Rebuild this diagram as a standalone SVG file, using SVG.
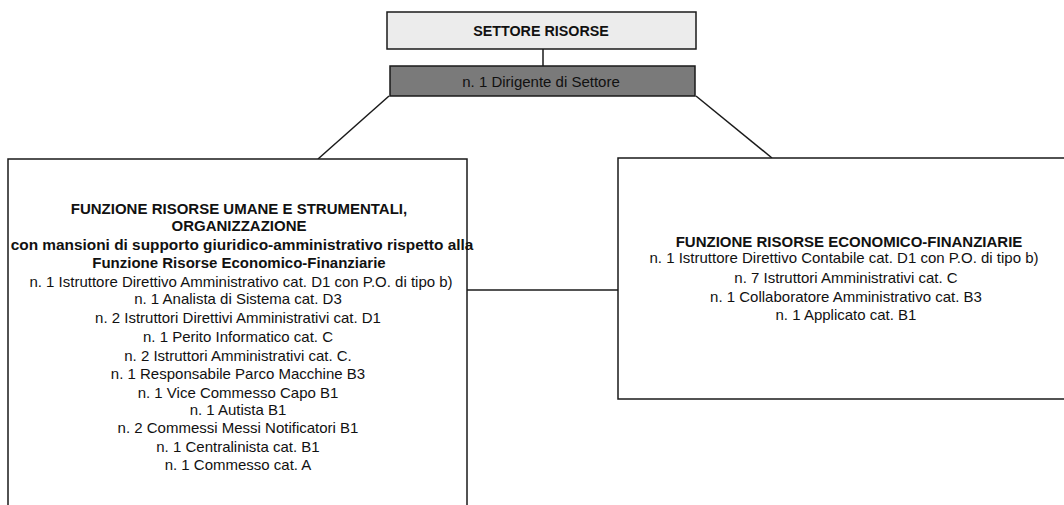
<svg xmlns="http://www.w3.org/2000/svg" width="1064" height="505" viewBox="0 0 1064 505">
<style>
.box{fill:#ffffff;stroke:#1a1a1a;stroke-width:1.5}
.t{font-family:"Liberation Sans",Arial,sans-serif;font-size:15px;fill:#111;text-anchor:middle}
.b{font-weight:bold}
.c{stroke:#1a1a1a;stroke-width:1.5;fill:none}
</style>
<rect width="1064" height="505" fill="#ffffff"/>
<g id="connectors">
<line class="c" x1="543" y1="49" x2="543" y2="66"/>
<line class="c" x1="389" y1="96" x2="318" y2="159"/>
<line class="c" x1="696" y1="96" x2="772" y2="158"/>
<line class="c" x1="467" y1="290" x2="618" y2="290"/>
</g>
<g id="settore">
<rect x="387" y="12" width="309" height="37" fill="#ececec" stroke="#1a1a1a" stroke-width="1.5"/>
<text class="t b" x="541" y="36" style="font-size:14.3px">SETTORE RISORSE</text>
</g>
<g id="dirigente">
<rect x="390" y="66" width="305" height="30" fill="#7a7a7a" stroke="#1a1a1a" stroke-width="1.5"/>
<text class="t" x="541" y="87" fill="#222">n. 1 Dirigente di Settore</text>
</g>
<g id="funzione-umane">
<rect class="box" x="8" y="159" width="459" height="360"/>
<text class="t b" x="239" y="214">FUNZIONE RISORSE UMANE E STRUMENTALI,</text>
<text class="t b" x="239" y="231">ORGANIZZAZIONE</text>
<text class="t b" x="242" y="250" style="font-size:15.4px">con mansioni di supporto giuridico-amministrativo rispetto alla</text>
<text class="t b" x="239" y="268">Funzione Risorse Economico-Finanziarie</text>
<text class="t" x="241" y="287">n. 1 Istruttore Direttivo Amministrativo cat. D1 con P.O. di tipo b)</text>
<text class="t" x="238" y="304">n. 1 Analista di Sistema cat. D3</text>
<text class="t" x="238" y="323">n. 2 Istruttori Direttivi Amministrativi cat. D1</text>
<text class="t" x="238" y="342">n. 1 Perito Informatico cat. C</text>
<text class="t" x="238" y="361">n. 2 Istruttori Amministrativi cat. C.</text>
<text class="t" x="238" y="379">n. 1 Responsabile Parco Macchine B3</text>
<text class="t" x="238" y="398">n. 1 Vice Commesso Capo B1</text>
<text class="t" x="238" y="415">n. 1 Autista B1</text>
<text class="t" x="238" y="433">n. 2 Commessi Messi Notificatori B1</text>
<text class="t" x="238" y="452">n. 1 Centralinista cat. B1</text>
<text class="t" x="238" y="470">n. 1 Commesso cat. A</text>
</g>
<g id="funzione-economico">
<rect class="box" x="618" y="158" width="460" height="241"/>
<text class="t b" x="849" y="247">FUNZIONE RISORSE ECONOMICO-FINANZIARIE</text>
<text class="t" x="844" y="263">n. 1 Istruttore Direttivo Contabile cat. D1 con P.O. di tipo b)</text>
<text class="t" x="846" y="283">n. 7 Istruttori Amministrativi cat. C</text>
<text class="t" x="846" y="302">n. 1 Collaboratore Amministrativo cat. B3</text>
<text class="t" x="846" y="320">n. 1 Applicato cat. B1</text>
</g>
</svg>
